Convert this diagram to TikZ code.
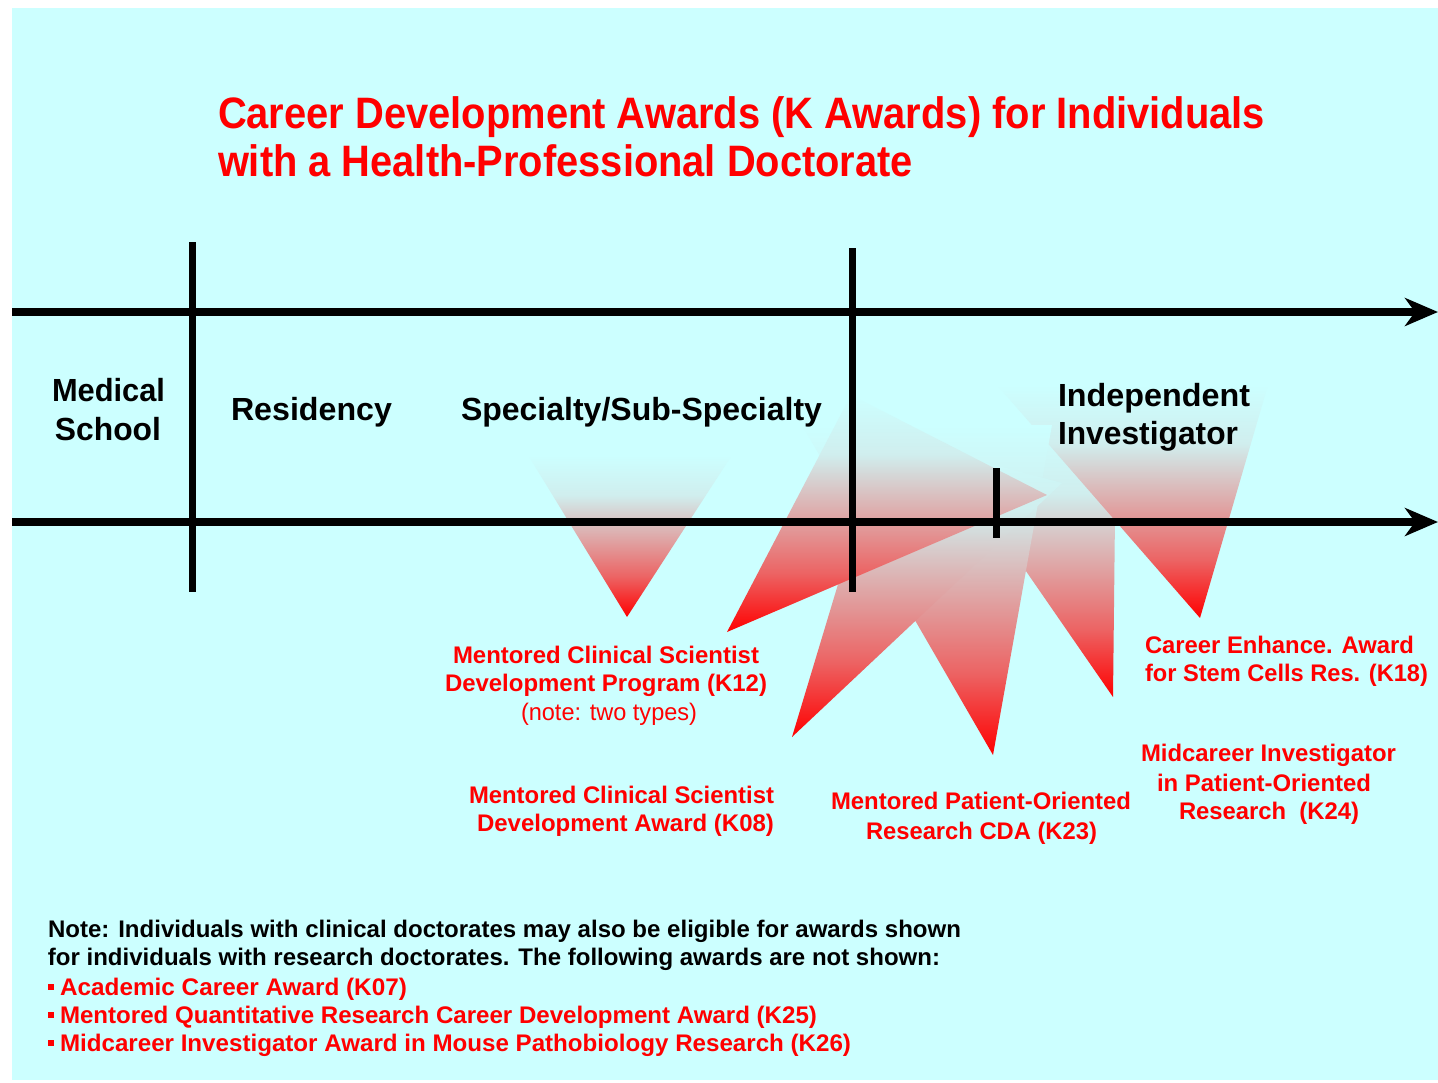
\documentclass[tikz,border=0pt]{standalone}
\usepackage{fontspec}
\setmainfont{Liberation Sans}
\usepackage{graphicx}
\usetikzlibrary{arrows.meta}
\definecolor{bgc}{RGB}{204,255,255}
\definecolor{kred}{RGB}{255,0,0}
\definecolor{wA}{RGB}{208,238,238}
\definecolor{wB}{RGB}{222,170,170}
\definecolor{wC}{RGB}{236,100,100}
\pgfdeclareverticalshading{kwedge}{100bp}{color(0bp)=(kred); color(25bp)=(kred); color(37.5bp)=(wC); color(50bp)=(wB); color(62.5bp)=(wA); color(75bp)=(bgc); color(100bp)=(bgc)}
\newcommand{\fitw}[2]{\resizebox{#1pt}{\height}{#2}}
\begin{document}
\begin{tikzpicture}[x=1pt,y=-1pt,
  lbl/.style={anchor=base west, inner sep=0pt, outer sep=0pt},
  ttl/.style={lbl, text=kred, font=\fontsize{44}{44}\selectfont\bfseries},
  stage/.style={lbl, text=black, font=\fontsize{32}{32}\selectfont\bfseries},
  award/.style={lbl, text=kred, font=\fontsize{24}{24}\selectfont\bfseries},
  awardthin/.style={lbl, text=kred, font=\fontsize{24}{24}\selectfont},
  note/.style={lbl, text=black, font=\fontsize{24}{24}\selectfont\bfseries},
  noteitem/.style={lbl, text=kred, font=\fontsize{24}{24}\selectfont\bfseries},
  axisline/.style={line width=8pt, -{Stealth[length=33pt,width=28pt,inset=10pt]}},
  bar/.style={line width=7pt},
  wedge/.style={shading=kwedge, draw=none},
]
\useasboundingbox (0,0) rectangle (1438,1082);
\fill[bgc] (12,8) rectangle (1438,1080);

% wedges
\path[wedge] (528,455) -- (732,455) -- (627,617) -- cycle;
\path[wedge] (925,425) -- (1116,425) -- (1113,697) -- cycle;
\path[wedge] (997,385) -- (1268,385) -- (1200,618) -- cycle;
\path[wedge] (802,425) -- (1052,425) -- (993,755) -- cycle;
\path[wedge] (883,435) -- (1062,483) -- (792,737) -- cycle;
\path[wedge] (851,395) -- (1047,495) -- (727,632) -- cycle;

% axes
\coordinate (a1s) at (12,312); \coordinate (a1e) at (1438,312);
\coordinate (a2s) at (12,522); \coordinate (a2e) at (1438,522);
\draw[axisline] (a1s) -- (a1e);
\draw[axisline] (a2s) -- (a2e);
\coordinate (b1t) at (192,242); \coordinate (b1b) at (192,592);
\coordinate (b2t) at (852,248); \coordinate (b2b) at (852,592);
\coordinate (b3t) at (996,468); \coordinate (b3b) at (996,538);
\draw[bar] (b1t) -- (b1b);
\draw[bar] (b2t) -- (b2b);
\draw[bar] (b3t) -- (b3b);

% title
\node[ttl] (title1) at (218,128) {\fitw{1047}{Career Development Awards (K Awards) for Individuals}};
\node[ttl] (title2) at (218,176) {\fitw{695}{with a Health-Professional Doctorate}};

% stages
\node[stage] (med1) at (52,401) {\fitw{113}{Medical}};
\node[stage] (med2) at (55,440) {\fitw{106}{School}};
\node[stage] (res) at (231,420) {\fitw{161}{Residency}};
\node[stage] (spec) at (461,420) {\fitw{361}{Specialty/Sub-Specialty}};
\node[stage] (ind1) at (1058,406) {\fitw{192}{Independent}};
\node[stage] (ind2) at (1058,444) {\fitw{180}{Investigator}};

% awards
\node[award] (k12a) at (453,663) {\fitw{306}{Mentored Clinical Scientist}};
\node[award] (k12b) at (445,691) {\fitw{322}{Development Program (K12)}};
\node[awardthin] (k12c) at (521,720) {\fitw{176}{(note: two types)}};
\node[award] (k08a) at (469,803) {\fitw{305}{Mentored Clinical Scientist}};
\node[award] (k08b) at (477,831) {\fitw{297}{Development Award (K08)}};
\node[award] (k23a) at (831,809) {\fitw{300}{Mentored Patient-Oriented}};
\node[award] (k23b) at (866,839) {\fitw{231}{Research CDA (K23)}};
\node[award] (k18a) at (1145,653) {\fitw{269}{Career Enhance. Award}};
\node[award] (k18b) at (1145,681) {\fitw{283}{for Stem Cells Res. (K18)}};
\node[award] (k24a) at (1141,761) {\fitw{255}{Midcareer Investigator}};
\node[award] (k24b) at (1157,791) {\fitw{214}{in Patient-Oriented}};
\node[award] (k24c) at (1179,819) {\fitw{180}{Research\ \ (K24)}};

% note
\node[note] (n1) at (48,937) {\fitw{913}{Note: Individuals with clinical doctorates may also be eligible for awards shown}};
\node[note] (n2) at (48,965) {\fitw{892}{for individuals with research doctorates. The following awards are not shown:}};
\node[noteitem] (n3) at (48,995) {\fitw{359}{\rule[5pt]{6pt}{6pt}\hspace{6pt}Academic Career Award (K07)}};
\node[noteitem] (n4) at (48,1023) {\fitw{769}{\rule[5pt]{6pt}{6pt}\hspace{6pt}Mentored Quantitative Research Career Development Award (K25)}};
\node[noteitem] (n5) at (48,1051) {\fitw{803}{\rule[5pt]{6pt}{6pt}\hspace{6pt}Midcareer Investigator Award in Mouse Pathobiology Research (K26)}};
\end{tikzpicture}
\end{document}
